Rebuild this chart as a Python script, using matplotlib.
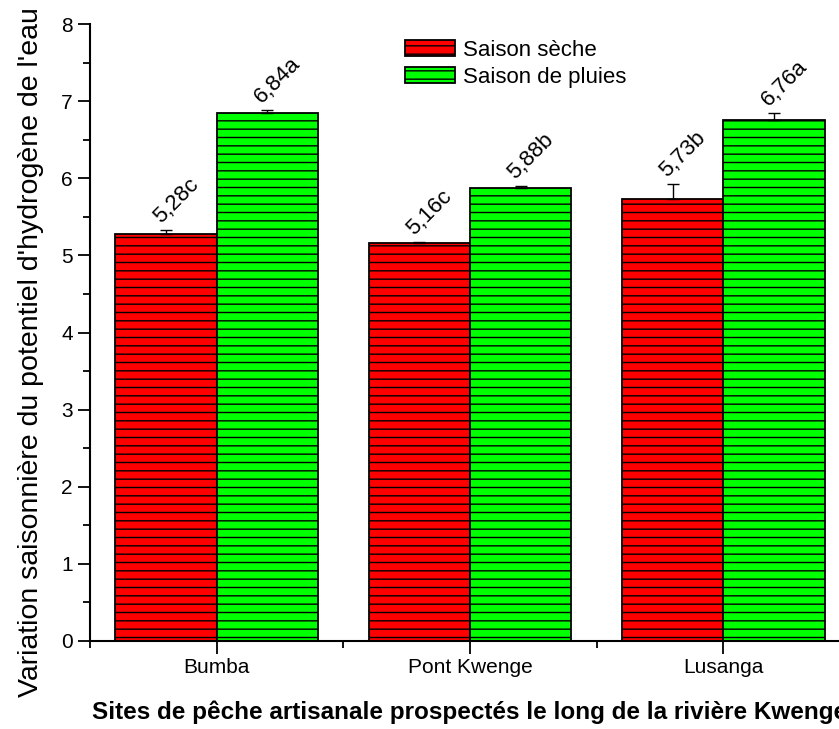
import matplotlib
matplotlib.use('Agg')
import matplotlib.pyplot as plt
import numpy as np

plt.rcParams['font.family'] = ['Liberation Sans', 'DejaVu Sans']

sites = ['Bumba', 'Pont Kwenge', 'Lusanga']
seche = [5.28, 5.16, 5.73]
seche_err = [0.05, 0.01, 0.19]
seche_lab = ['5,28c', '5,16c', '5,73b']
pluies = [6.84, 5.88, 6.76]
pluies_err = [0.04, 0.02, 0.09]
pluies_lab = ['6,84a', '5,88b', '6,76a']

x = np.arange(1, len(sites) + 1)
w = 0.4

fig = plt.figure(figsize=(8.39, 7.29), dpi=100)
ax = fig.add_axes([90 / 839, 88 / 729, 760 / 839, 617 / 729])

ax.bar(x - w / 2, seche, w, color='#ff0000', edgecolor='black', linewidth=1.3,
       hatch='--', label='Saison sèche',
       yerr=[np.zeros(3), seche_err], capsize=4.3,
       error_kw=dict(ecolor='black', elinewidth=1, capthick=1))
ax.bar(x + w / 2, pluies, w, color='#00ff00', edgecolor='black', linewidth=1.3,
       hatch='--', label='Saison de pluies',
       yerr=[np.zeros(3), pluies_err], capsize=4.3,
       error_kw=dict(ecolor='black', elinewidth=1, capthick=1))

# lettres de significativite au-dessus des barres
for xi, v, e, t in zip(x - w / 2, seche, seche_err, seche_lab):
    ax.annotate(t, (xi, v + e), xytext=(-4, 4.5), textcoords='offset points',
                rotation=45, rotation_mode='anchor', ha='left', va='baseline', fontsize=16)
for xi, v, e, t in zip(x + w / 2, pluies, pluies_err, pluies_lab):
    ax.annotate(t, (xi, v + e), xytext=(-4, 4.5), textcoords='offset points',
                rotation=45, rotation_mode='anchor', ha='left', va='baseline', fontsize=16)

ax.set_xlim(0.5, 3.5)
ax.set_ylim(0, 8)
ax.set_xticks(x)
ax.set_xticklabels(sites, fontsize=15)
ax.set_xticks([0.5, 1.5, 2.5, 3.5], minor=True)
ax.set_yticks(np.arange(0, 9, 1))
ax.set_yticks(np.arange(0.5, 8, 1), minor=True)
ax.tick_params(axis='y', labelsize=15)
ax.tick_params(which='major', length=9, width=1.3, direction='out')
ax.tick_params(which='minor', length=5, width=1.3, direction='out')

for s in ['top', 'right']:
    ax.spines[s].set_visible(False)
for s in ['left', 'bottom']:
    ax.spines[s].set_linewidth(1.5)

ax.set_ylabel("Variation saisonnière du potentiel d'hydrogène de l'eau", fontsize=20.5)
ax.yaxis.set_label_coords(-0.06, 0.469)
ax.set_xlabel('Sites de pêche artisanale prospectés le long de la rivière Kwenge',
              fontsize=17.5, fontweight='bold')
ax.xaxis.set_label_coords(0.5, -0.097)

ax.legend(loc='upper left', bbox_to_anchor=(405 / 839, 1 - 40 / 729),
          bbox_transform=fig.transFigure, frameon=False, fontsize=16,
          handlelength=2.25, handleheight=0.72, handletextpad=0.35,
          labelspacing=0.25, borderpad=0, borderaxespad=0)

fig.savefig('out.png', dpi=100)
